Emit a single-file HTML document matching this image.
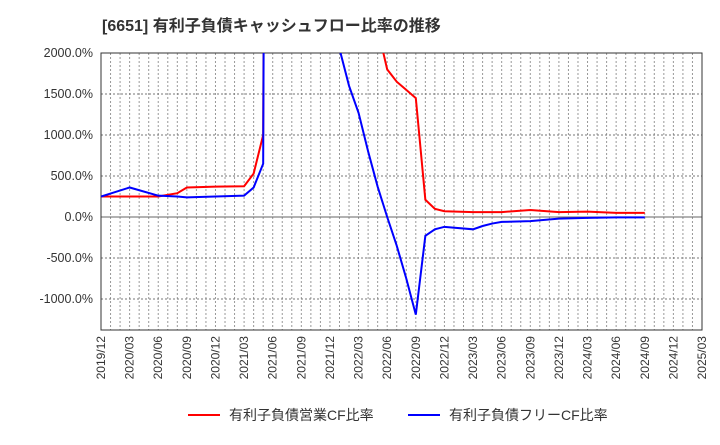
<!DOCTYPE html>
<html><head><meta charset="utf-8"><style>
body{margin:0;background:#fff;font-family:"Liberation Sans","Noto Sans CJK JP",sans-serif;}
</style></head><body>
<svg id="c" width="720" height="440" xmlns="http://www.w3.org/2000/svg"></svg>
<script>
const months=[0,3,6,8,9,12,15,16,17,18,24,25,26,27,28,29,30,31,32,33,34,35,36,39,40,41,42,45,48,51,54,57];
const cfOp=[250,250,250,290,360,370,375,530,1000,30000,30000,30000,30000,30000,30000,2300,1800,1650,1550,1450,210,100,70,60,60,60,60,85,60,65,50,50];
const cfFree=[250,360,260,250,240,250,260,360,650,30000,5000,2050,1600,1270,800,370,0,-350,-750,-1190,-230,-150,-120,-150,-110,-80,-60,-50,-20,-10,-5,-5];
const yTicks=[2000,1500,1000,500,0,-500,-1000];
const xLabels=["2019/12","2020/03","2020/06","2020/09","2020/12","2021/03","2021/06","2021/09","2021/12","2022/03","2022/06","2022/09","2022/12","2023/03","2023/06","2023/09","2023/12","2024/03","2024/06","2024/09","2024/12","2025/03"];
const L=101,R=702,T=53,B=330;
const X=m=>L+(R-L)*m/63;
const Y=v=>217-v*0.082;
const svg=document.getElementById('c');const NS="http://www.w3.org/2000/svg";
function el(t,a,p){const e=document.createElementNS(NS,t);for(const k in a)e.setAttribute(k,a[k]);(p||svg).appendChild(e);return e;}
const t=el('text',{x:102,y:31,'font-size':16,'font-weight':'bold',fill:'#333'});t.textContent="[6651]  有利子負債キャッシュフロー比率の推移";


const defs=el('defs',{});const cp=el('clipPath',{id:'clip'},defs);el('rect',{x:L,y:T,width:R-L,height:B-T},cp);
for(let m=1;m<63;m++){const g=el('line',{x1:X(m),x2:X(m),y1:T,y2:B,stroke:'#999','stroke-dasharray':'2,2','stroke-width':1});

}
yTicks.forEach(v=>{const g=el('line',{x1:L,x2:R,y1:Y(v),y2:Y(v),stroke:v===0?'#666':'#777','stroke-dasharray':v===0?'':'2,2','stroke-width':1});


const lb=el('text',{x:L-8,y:Y(v)+4,'text-anchor':'end','font-size':12.5,fill:'#333'});lb.textContent=v.toFixed(1)+"%";

});
xLabels.forEach((s,i)=>{const x=X(i*3);const lb=el('text',{x:x+4,y:B+6,'text-anchor':'end','font-size':12,fill:'#333',transform:`rotate(-90 ${x+4} ${B+6})`});lb.textContent=s;

});
const fr=el('rect',{x:L,y:T,width:R-L,height:B-T,fill:'none',stroke:'#333','stroke-width':1});


function line(vals,col,name){const p=el('polyline',{points:months.map((m,i)=>X(m)+','+Y(vals[i])).join(' '),fill:'none',stroke:col,'stroke-width':2,'clip-path':'url(#clip)'});

}
line(cfOp,'#ff0000','operating-cf-ratio-line');
line(cfFree,'#0000ff','free-cf-ratio-line');
function leg(x,col,txt,name){const g=el('g',{});

el('line',{x1:x,x2:x+32,y1:415,y2:415,stroke:col,'stroke-width':2},g);const tt=el('text',{x:x+41,y:420,'font-size':14,fill:'#333'},g);tt.textContent=txt;}
leg(188,'#ff0000','有利子負債営業CF比率','legend-operating-cf');
leg(408,'#0000ff','有利子負債フリーCF比率','legend-free-cf');
</script></body></html>
